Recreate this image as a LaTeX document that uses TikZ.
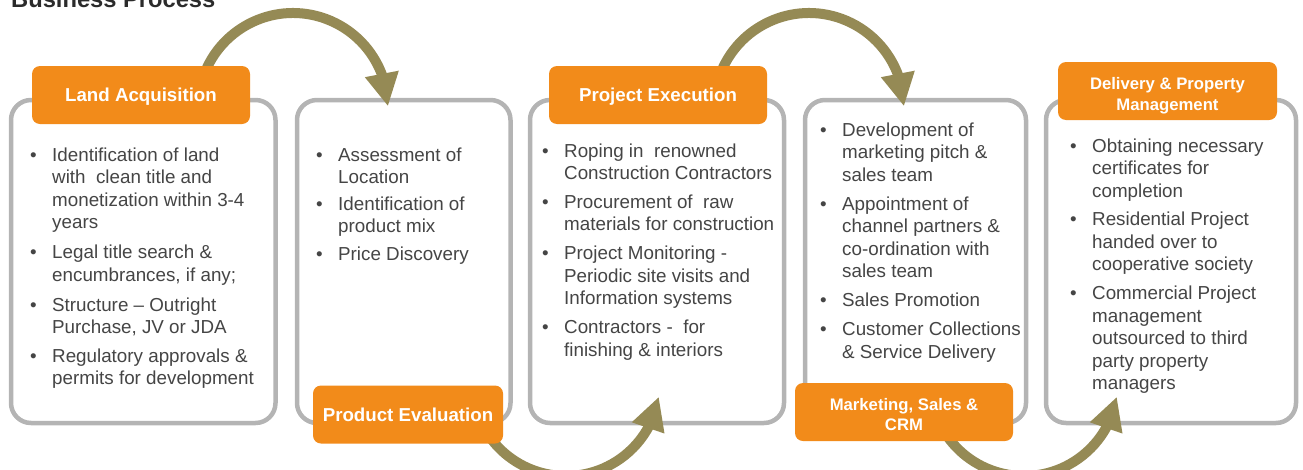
\documentclass[tikz,border=0pt]{standalone}
\usepackage{fontspec}
\setmainfont{Liberation Sans}
\usetikzlibrary{arrows.meta,bending,calc}
\definecolor{orng}{HTML}{F28B1A}
\definecolor{olivearrow}{HTML}{958A55}
\definecolor{boxgray}{HTML}{B4B4B4}
\definecolor{txt}{HTML}{454545}
\definecolor{titlecol}{HTML}{2B2B2B}
\newcommand\bl{\llap{\textbullet\hspace{15.5pt}}}
\newcommand\st{\rule{0pt}{15pt}}
\newcommand\sth{\rule{0pt}{14pt}}
\begin{document}
\begin{tikzpicture}[x=1pt,y=-1pt,
  frame/.style={draw=boxgray, line width=4.5pt, rounded corners=20pt, fill=white, inner sep=0pt},
  hdr/.style={fill=orng, rounded corners=8pt, inner sep=0pt, text=white,
    font=\fontsize{18.7}{22}\selectfont\bfseries, text height=13.4pt, text depth=0pt},
  hdrtwo/.style={text=white, font=\fontsize{16.7}{20.5}\selectfont\bfseries, align=center, inner sep=0pt, anchor=north},
  body/.style={text=txt, font=\fontsize{18.8}{22.5}\selectfont, align=left, inner sep=0pt, anchor=north west},
  flow/.style={draw=olivearrow, line width=10pt, -{Triangle[length=33pt,width=32pt,flex]}}
]
\clip (0,0) rectangle (1303,469);

\node[anchor=base west, inner sep=0pt, text=titlecol, font=\fontsize{23.7}{28}\selectfont\bfseries] (title) at (11,7.5) {Business Process};

% content boxes
\node[frame, minimum width=264.5pt, minimum height=323pt] (b1) at (143.25,261.5) {};
\node[frame, minimum width=213.5pt, minimum height=323pt] (b2) at (403.75,261.5) {};
\node[frame, minimum width=254pt, minimum height=323pt] (b3) at (657,261.5) {};
\node[frame, minimum width=221pt, minimum height=323pt] (b4) at (915.5,261.5) {};
\node[frame, minimum width=250pt, minimum height=323pt] (b5) at (1171,261.5) {};

% flow arrows
\coordinate (c1) at (293,108);
\coordinate (c2) at (566,382);
\coordinate (c3) at (809,108);
\coordinate (c4) at (1024,382);
\draw[flow] ($(c1)+(-160:95)$) arc[start angle=-160, end angle=-1, radius=95];
\draw[flow] ($(c2)+(145:94)$) arc[start angle=145, end angle=9, radius=94];
\draw[flow] ($(c3)+(-160:95)$) arc[start angle=-160, end angle=-1, radius=95];
\draw[flow] ($(c4)+(145:94)$) arc[start angle=145, end angle=9, radius=94];

% headers
\node[hdr, minimum width=218pt, minimum height=58pt] (h1) at (141,95) {Land Acquisition};
\node[hdr, minimum width=190pt, minimum height=58pt] (h2) at (408,414.5) {Product Evaluation};
\node[hdr, minimum width=218pt, minimum height=58pt] (h3) at (658,95) {Project Execution};
\node[hdr, minimum width=218pt, minimum height=58pt] (h4) at (904,412) {};
\node[hdr, minimum width=219pt, minimum height=58pt] (h5) at (1167.5,91) {};
\node[hdrtwo] (h4t) at (904,396) {\sth Marketing, Sales \&\\CRM};
\node[hdrtwo] (h5t) at (1167.5,75.5) {\sth Delivery \& Property\\Management};

% body texts
\node[body] (t1) at (52,146) {\st\bl Identification of land\\
with~ clean title and\\
monetization within 3-4\\
years\\[7.5pt]
\bl Legal title search \&\\
encumbrances, if any;\\[7.5pt]
\bl Structure -- Outright\\
Purchase, JV or JDA\\[6pt]
\bl Regulatory approvals \&\\
permits for development};

\node[body] (t2) at (338,146) {\st\bl Assessment of\\
Location\\[4pt]
\bl Identification of\\
product mix\\[5pt]
\bl Price Discovery};

\node[body] (t3) at (564,142) {\st\bl Roping in~ renowned\\
Construction Contractors\\[6pt]
\bl Procurement of~ raw\\
materials for construction\\[6.5pt]
\bl Project Monitoring -\\
Periodic site visits and\\
Information systems\\[6.5pt]
\bl Contractors -~ for\\
finishing \& interiors};

\node[body] (t4) at (842,121) {\st\bl Development of\\
marketing pitch \&\\
sales team\\[6.5pt]
\bl Appointment of\\
channel partners \&\\
co-ordination with\\
sales team\\[6.5pt]
\bl Sales Promotion\\[6.5pt]
\bl Customer Collections\\
\& Service Delivery};

\node[body] (t5) at (1092,137) {\st\bl Obtaining necessary\\
certificates for\\
completion\\[6pt]
\bl Residential Project\\
handed over to\\
cooperative society\\[6.5pt]
\bl Commercial Project\\
management\\
outsourced to third\\
party property\\
managers};
\end{tikzpicture}
\end{document}
